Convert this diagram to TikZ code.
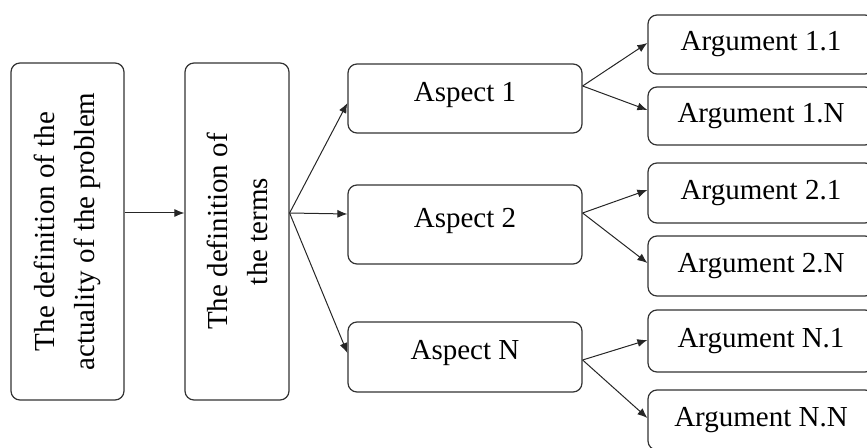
\documentclass[tikz,border=0pt]{standalone}
\usepackage{fontspec}
\setmainfont{Liberation Serif}
\usetikzlibrary{%
		arrows.meta%
	}

\begin{document}
\begin{tikzpicture}[x=1pt, y=1pt,
		box/.style={draw=gray!40!black, line width=1.2pt, fill=white, rounded corners=9pt,
			font=\fontsize{29}{40}\selectfont, align=center, inner sep=0pt},
		arr/.style={draw=black!85, line width=1pt, -{Latex[length=10pt, width=8pt]}}
	]
			\useasboundingbox (0,0) rectangle (867,447);
			
			\node[box, rotate=90, minimum width=337, minimum height=113] (actual) at (67.5,215.5) {The definition of the\\actuality of the problem};
			\node[box, rotate=90, minimum width=337, minimum height=104] (terms) at (237,215.5) {The definition of\\the terms};
			
			\node[box, minimum width=234, minimum height=69, text height=20pt, text depth=14pt] (asp1) at (465,348.5) {Aspect 1};
			\node[box, minimum width=234, minimum height=79, text height=20pt, text depth=14pt] (asp2) at (465,222.5) {Aspect 2};
			\node[box, minimum width=234, minimum height=70, text height=20pt, text depth=14pt] (aspN) at (465,90) {Aspect N};
			
			\node[box, minimum width=226, minimum height=59] (arg11) at (761,402.5) {Argument 1.1};
			\node[box, minimum width=226, minimum height=58] (arg1N) at (761,331) {Argument 1.N};
			\node[box, minimum width=226, minimum height=60] (arg21) at (761,254) {Argument 2.1};
			\node[box, minimum width=226, minimum height=60] (arg2N) at (761,181) {Argument 2.N};
			\node[box, minimum width=226, minimum height=62] (argN1) at (761,106) {Argument N.1};
			\node[box, minimum width=226, minimum height=60] (argNN) at (761,27) {Argument N.N};
			
			\coordinate (fork) at ([yshift=18.5]terms.south);
			\draw[arr] ([yshift=18.5]actual.south) -- ([yshift=18.5]terms.north);
			\draw[arr] (fork) -- ([yshift=-4.5]asp1.west);
			\draw[arr] (fork) -- ([yshift=10.5]asp2.west);
			\draw[arr] (fork) -- ([yshift=4]aspN.west);
			
			\draw[arr] ([yshift=12.5]asp1.east) -- ([yshift=1.5]arg11.west);
			\draw[arr] ([yshift=12.5]asp1.east) -- ([yshift=6]arg1N.west);
			\draw[arr] ([yshift=11.5]asp2.east) -- ([yshift=3]arg21.west);
			\draw[arr] ([yshift=11.5]asp2.east) -- ([yshift=3]arg2N.west);
			\draw[arr] ([yshift=-3]aspN.east) -- ([yshift=1]argN1.west);
			\draw[arr] ([yshift=-3]aspN.east) -- ([yshift=2]argNN.west);
		\end{tikzpicture}
\end{document}
